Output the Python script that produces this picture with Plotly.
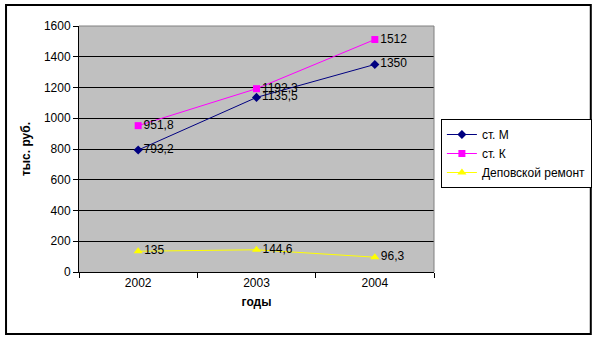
import plotly.graph_objects as go

years = ["2002", "2003", "2004"]
st_m = [793.2, 1135.5, 1350]
st_k = [951.8, 1192.3, 1512]
depo = [135, 144.6, 96.3]
names = ["ст. М", "ст. К", "Деповской ремонт"]
y_ticks = [0, 200, 400, 600, 800, 1000, 1200, 1400, 1600]

def fmt(v):
    s = ("%g" % v)
    return s.replace(".", ",")

FONT = "Liberation Sans, Arial, sans-serif"

fig = go.Figure()
series = [
    (st_m, names[0], "#000080", "diamond", 7),
    (st_k, names[1], "#FF00FF", "square", 7),
    (depo, names[2], "#FFFF00", "triangle-up", 8),
]
for vals, nm, col, sym, sz in series:
    fig.add_trace(go.Scatter(
        x=years, y=vals, name=nm, mode="lines+markers+text",
        line=dict(color=col, width=1),
        marker=dict(color=col, symbol=sym, size=sz, line=dict(width=0)),
        text=[fmt(v) for v in vals], textposition="middle right",
        textfont=dict(family=FONT, size=12, color="black"),
        cliponaxis=False,
    ))

L, R, T, B = 79, 439, 26, 272
W, H = 604, 340
pw, ph = R - L, B - T

def px(x):
    return (x - L) / pw

def py(y):
    return (B - y) / ph

fig.update_layout(
    width=W, height=H,
    margin=dict(l=L, r=W - R, t=T, b=H - B, pad=0),
    paper_bgcolor="white", plot_bgcolor="#C0C0C0",
    font=dict(family=FONT, size=11, color="black"),
    showlegend=True,
    legend=dict(
        x=px(446), y=py(119), xanchor="left", yanchor="top",
        bordercolor="black", borderwidth=1, bgcolor="white",
        font=dict(family=FONT, size=12, color="black"),
        tracegroupgap=0, itemwidth=30,
    ),
    xaxis=dict(
        type="category", range=[-0.5, 2.5],
        showline=True, linecolor="black", linewidth=1,
        ticks="outside", tickson="boundaries", ticklen=5, tickcolor="black",
        showgrid=False, zeroline=False,
        tickfont=dict(family=FONT, size=12),
        title=dict(text="<b>годы</b>", font=dict(family=FONT, size=12), standoff=8),
    ),
    yaxis=dict(
        range=[0, 1600], tickvals=y_ticks,
        showline=True, linecolor="black", linewidth=1,
        ticks="outside", ticklen=5, tickcolor="black",
        showgrid=True, gridcolor="black", gridwidth=1, zeroline=False,
        tickfont=dict(family=FONT, size=12),
        title=dict(text="<b>тыс. руб.</b>", font=dict(family=FONT, size=12), standoff=10),
    ),
    shapes=[
        dict(type="line", xref="paper", yref="paper", x0=0, x1=1, y0=1, y1=1,
             line=dict(color="#808080", width=1), layer="above"),
        dict(type="line", xref="paper", yref="paper", x0=1, x1=1, y0=0, y1=1,
             line=dict(color="#808080", width=1), layer="above"),
        dict(type="rect", xref="paper", yref="paper",
             x0=px(5), x1=px(598), y0=py(334), y1=py(5),
             line=dict(color="black", width=2), layer="above"),
    ],
)

fig.write_html("out.html")
